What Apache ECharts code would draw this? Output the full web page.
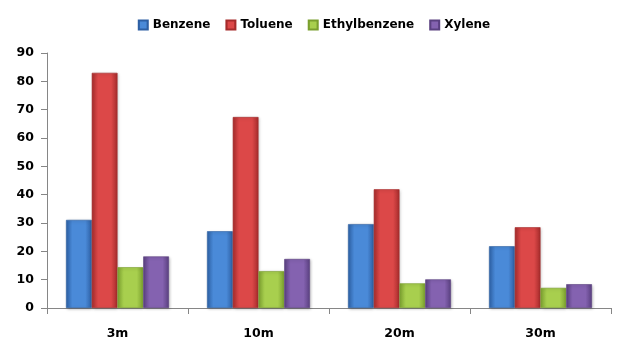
<!DOCTYPE html>
<html><head><meta charset="utf-8">
<script src="https://cdn.jsdelivr.net/npm/echarts@6/dist/echarts.min.js"></script>
<style>html,body{margin:0;padding:0;background:#fff}#c{width:628px;height:360px}</style>
</head><body><div id="c"></div>
<script>
const categories = ['3m', '10m', '20m', '30m'];
const benzene = [31.1, 27.1, 29.6, 21.8];
const toluene = [83.0, 67.4, 41.9, 28.5];
const ethylbenzene = [14.4, 13.0, 8.7, 7.1];
const xylene = [18.2, 17.3, 10.1, 8.4];
const yTicks = [0, 10, 20, 30, 40, 50, 60, 70, 80, 90];

const colors = [
  ['#2e63a8', '#4a8ad8', '#2d5fa3'],
  ['#a82d2d', '#dc4848', '#a52b2b'],
  ['#7ea431', '#a8cf4e', '#7a9f2e'],
  ['#5c4283', '#8462b0', '#5a4080']
];
function grad(c){
  return new echarts.graphic.LinearGradient(0,0,1,0,[
    {offset:0,color:c[0]},{offset:0.25,color:c[1]},{offset:0.75,color:c[1]},{offset:1,color:c[2]}
  ]);
}
const names = ['Benzene','Toluene','Ethylbenzene','Xylene'];
const data = [benzene, toluene, ethylbenzene, xylene];
const font = 'DejaVu Sans';
const chart = echarts.init(document.getElementById('c'), null, {renderer:'canvas'});
chart.setOption({
  animation:false,
  color: colors.map(c=>c[1]),
  legend:{
    top:14, left:'center', itemWidth:9, itemHeight:9, itemGap:15,
    icon:'rect',
    textStyle:{fontFamily:font, fontWeight:'bold', fontSize:12, color:'#000'}
  },
  grid:{left:47, right:17, top:53, bottom:52},
  xAxis:{
    type:'category', data:categories,
    axisLine:{lineStyle:{color:'#868686'}},
    axisTick:{show:true, length:6, lineStyle:{color:'#868686'}},
    axisLabel:{margin:19, fontFamily:font, fontWeight:'bold', fontSize:12.5, color:'#000'}
  },
  yAxis:{
    type:'value', min:0, max:90, interval:10,
    axisLine:{show:true, lineStyle:{color:'#868686'}},
    axisTick:{show:true, length:6, lineStyle:{color:'#868686'}},
    splitLine:{show:false},
    axisLabel:{margin:13, fontFamily:font, fontWeight:'bold', fontSize:12.5, color:'#000',
      formatter:v=>yTicks.includes(v)?String(v):''}
  },
  series: names.map((n,i)=>({
    name:n, type:'bar', data:data[i],
    barGap:'0%', barCategoryGap:'27%',
    itemStyle:{color:grad(colors[i]), borderColor:colors[i][2], borderWidth:0.6,
      shadowColor:'rgba(0,0,0,0.25)', shadowBlur:3, shadowOffsetX:1, shadowOffsetY:1}
  }))
});
</script></body></html>
